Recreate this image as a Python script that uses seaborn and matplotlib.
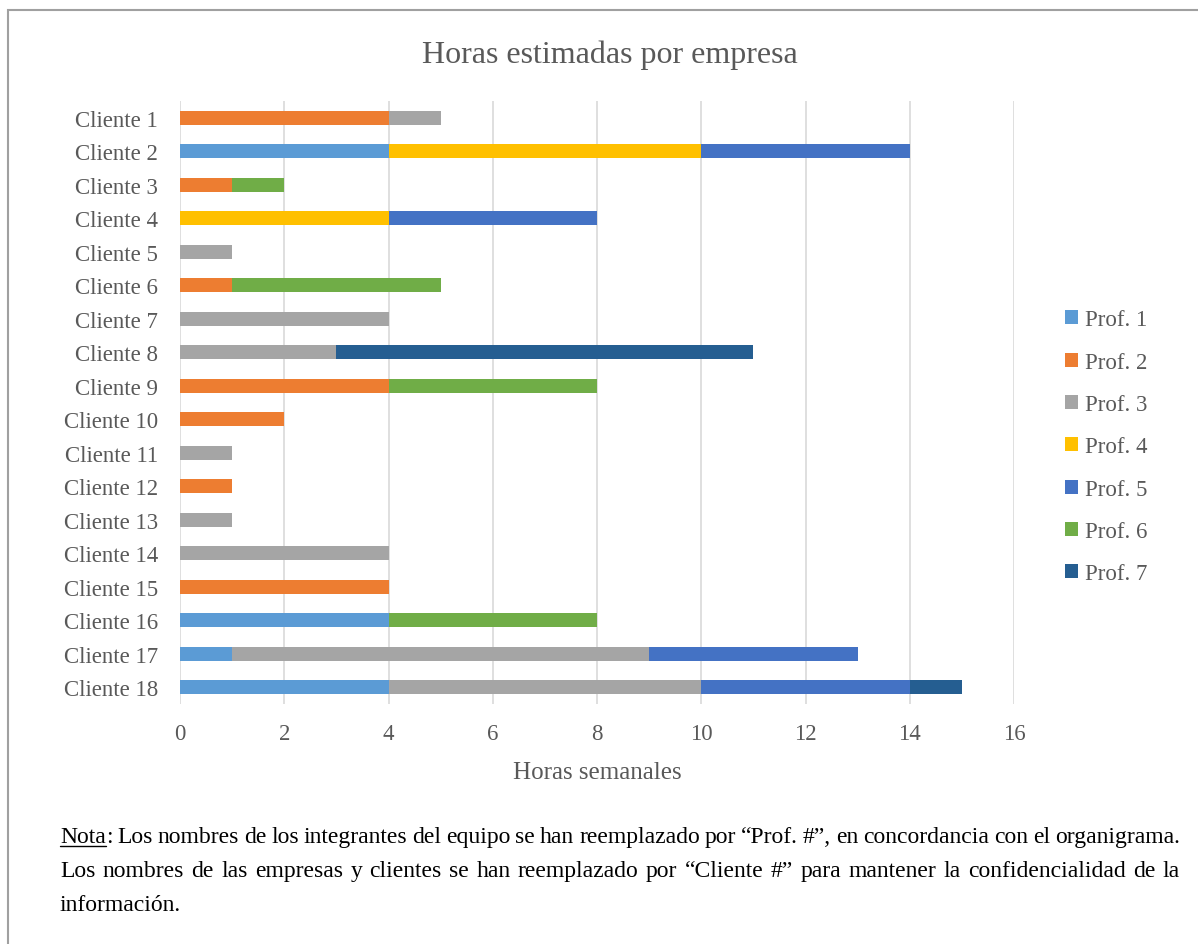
import numpy as np
import pandas as pd
import matplotlib
matplotlib.use("Agg")
import matplotlib.pyplot as plt
import seaborn as sns
from matplotlib.patches import Patch, Rectangle
from matplotlib.lines import Line2D

clientes = ["Cliente %d" % i for i in range(1, 19)]
profs = ["Prof. %d" % i for i in range(1, 8)]
colores = ["#5B9BD5", "#ED7D31", "#A5A5A5", "#FFC000", "#4472C4", "#70AD47", "#255E91"]

# horas por profesional (filas = clientes 1..18)
prof1 = [0, 4, 0, 0, 0, 0, 0, 0, 0, 0, 0, 0, 0, 0, 0, 4, 1, 4]
prof2 = [4, 0, 1, 0, 0, 1, 0, 0, 4, 2, 0, 1, 0, 0, 4, 0, 0, 0]
prof3 = [1, 0, 0, 0, 1, 0, 4, 3, 0, 0, 1, 0, 1, 4, 0, 0, 8, 6]
prof4 = [0, 6, 0, 4, 0, 0, 0, 0, 0, 0, 0, 0, 0, 0, 0, 0, 0, 0]
prof5 = [0, 4, 0, 4, 0, 0, 0, 0, 0, 0, 0, 0, 0, 0, 0, 0, 4, 4]
prof6 = [0, 0, 1, 0, 0, 4, 0, 0, 4, 0, 0, 0, 0, 0, 0, 4, 0, 0]
prof7 = [0, 0, 0, 0, 0, 0, 0, 8, 0, 0, 0, 0, 0, 0, 0, 0, 0, 1]

df = pd.DataFrame({"Cliente": clientes, "Prof. 1": prof1, "Prof. 2": prof2,
                   "Prof. 3": prof3, "Prof. 4": prof4, "Prof. 5": prof5,
                   "Prof. 6": prof6, "Prof. 7": prof7})
acum = df[profs].cumsum(axis=1)

sns.set_theme(style="white")
plt.rcParams['font.family'] = ['Liberation Serif', 'DejaVu Serif']
gris = "#595959"

fig = plt.figure(figsize=(11.98, 9.45), dpi=100)
ax = fig.add_axes([0.1503, 0.254, 0.6961, 0.638])

# apilado: se dibuja del total mayor al menor
for p, c in zip(profs[::-1], colores[::-1]):
    sns.barplot(x=acum[p], y=df["Cliente"], color=c, orient="h", width=0.42,
                saturation=1, linewidth=0, ax=ax, zorder=3)

ax.set_xlim(0, 16)
ax.set_ylim(17.5, -0.5)
ax.set_xticks(range(0, 17, 2))
ax.grid(axis="x", color="#D9D9D9", linewidth=1.2, zorder=0)
ax.grid(axis="y", visible=False)
for s in ax.spines.values():
    s.set_visible(False)
ax.tick_params(axis="both", length=0, labelsize=16.5, labelcolor=gris)
ax.tick_params(axis="y", pad=16)
ax.tick_params(axis="x", pad=14)
ax.set_ylabel("")
ax.set_xlabel("Horas semanales", fontsize=18, color=gris, labelpad=12)

fig.text(0.509, 0.942, "Horas estimadas por empresa", ha="center", va="center",
         fontsize=23, color=gris)

handles = [Patch(facecolor=c, edgecolor="none") for c in colores]
fig.legend(handles, profs, loc="center left", bbox_to_anchor=(0.872, 0.526),
           frameon=False, fontsize=16.5, labelcolor=gris, handlelength=0.55,
           handleheight=0.55, handletextpad=0.3, labelspacing=0.93)

# borde del recuadro
fig.add_artist(Rectangle((8 / 1198, -0.01), 1.2, 1 - 11 / 945 + 0.01,
                         transform=fig.transFigure, fill=False,
                         edgecolor="#A0A0A0", linewidth=1.5))

# nota al pie (justificada)
x0, x1 = 60 / 1198, 1180 / 1198
fs = 17
lineas = [
    "Nota: Los nombres de los integrantes del equipo se han reemplazado por \u201cProf. #\u201d, en concordancia con el organigrama.",
    "Los nombres de las empresas y clientes se han reemplazado por \u201cCliente #\u201d para mantener la confidencialidad de la",
    "informaci\u00f3n.",
]
ys = [1 - 843 / 945, 1 - 877 / 945, 1 - 911 / 945]
fig.canvas.draw()
r = fig.canvas.get_renderer()
for k, (linea, y) in enumerate(zip(lineas, ys)):
    palabras = linea.split(" ")
    if k < 2:
        ts = [fig.text(0, y, w, fontsize=fs, color="black", va="baseline") for w in palabras]
        anchos = [t.get_window_extent(r).width / fig.bbox.width for t in ts]
        hueco = (x1 - x0 - sum(anchos)) / (len(palabras) - 1)
        x = x0
        for t, w in zip(ts, anchos):
            t.set_x(x)
            x += w + hueco
        if k == 0:
            t0 = ts[0]
            t0.set_text("Nota")
            bb = t0.get_window_extent(r)
            wn = bb.width / fig.bbox.width
            fig.text(x0 + wn, y, ":", fontsize=fs, color="black", va="baseline")
            fig.add_artist(Line2D([x0, x0 + wn], [y - 0.004, y - 0.004],
                                  transform=fig.transFigure, color="black", linewidth=1))
    else:
        fig.text(x0, y, linea, fontsize=fs, color="black", va="baseline")

fig.savefig("out.png", dpi=100)
